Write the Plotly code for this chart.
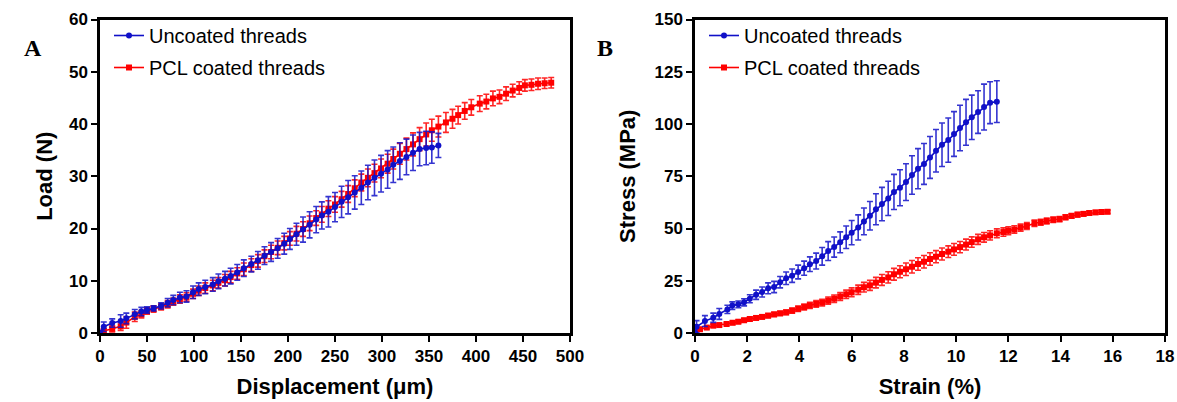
import plotly.graph_objects as go

# ---------------- Panel A: Load vs displacement ----------------
unc_disp = [0, 4, 13, 22, 28, 37, 44, 50, 57, 65, 72, 78, 85, 92, 99, 105, 112, 120, 126, 133,
            139, 146, 153, 161, 168, 175, 182, 189, 196, 202, 209, 216, 223, 230, 236, 243, 250,
            257, 264, 271, 278, 285, 292, 299, 306, 312, 319, 326, 333, 340, 347, 353, 360]
unc_load = [0.1, 1.2, 1.9, 2.3, 2.8, 3.6, 4.1, 4.4, 4.7, 5.2, 5.8, 6.3, 6.8, 7.0, 7.8, 8.4, 8.8,
            9.3, 9.9, 10.4, 10.9, 11.6, 12.4, 13.2, 13.9, 14.8, 15.5, 16.2, 17.1, 18.0, 18.9, 19.8,
            20.7, 21.7, 22.5, 23.2, 24.1, 25.1, 26.0, 26.9, 27.8, 28.8, 29.7, 30.5, 31.3, 32.2,
            32.9, 33.7, 34.5, 35.2, 35.4, 35.5, 35.9]
unc_load_err = [0.3, 0.9, 0.8, 1.2, 1.0, 0.9, 0.8, 0.6, 0.5, 0.6, 0.8, 0.9, 1.0, 1.1, 1.2, 1.2,
                1.3, 1.3, 1.4, 1.4, 1.5, 1.5, 1.6, 1.5, 1.7, 1.7, 1.8, 1.9, 2.0, 2.0, 2.1, 2.4,
                2.5, 2.5, 2.6, 2.9, 2.8, 3.0, 3.2, 3.2, 3.2, 3.3, 3.4, 3.5, 3.6, 3.4, 3.5, 3.4,
                3.4, 3.2, 3.2, 3.0, 2.3]

pcl_disp = [0, 4, 13, 22, 28, 37, 44, 50, 57, 65, 72, 78, 85, 92, 99, 105, 112, 120, 126, 133,
            139, 146, 153, 161, 168, 175, 182, 189, 196, 202, 209, 216, 223, 230, 236, 243, 250,
            257, 264, 271, 278, 285, 292, 299, 306, 312, 319, 326, 333, 340, 347, 353, 360, 368,
            375, 381, 388, 395, 404, 411, 418, 425, 432, 439, 446, 452, 459, 466, 473, 480]
pcl_load = [0.0, 0.4, 0.8, 1.3, 2.0, 3.1, 3.6, 4.2, 4.6, 5.0, 5.5, 6.0, 6.5, 6.9, 7.5, 8.1, 8.6,
            9.1, 9.6, 10.1, 10.7, 11.4, 12.2, 13.0, 13.8, 14.7, 15.5, 16.3, 17.2, 18.1, 19.0,
            19.9, 21.0, 22.0, 22.7, 23.8, 24.6, 25.6, 26.6, 27.7, 28.8, 29.7, 30.6, 31.5, 32.4,
            33.3, 34.3, 35.2, 36.1, 37.1, 38.0, 38.8, 39.5, 40.3, 41.0, 41.7, 42.5, 43.2, 43.9,
            44.3, 44.9, 45.2, 45.8, 46.4, 46.9, 47.4, 47.5, 47.7, 47.8, 47.9]
pcl_load_err = [0.2, 0.4, 0.6, 0.8, 1.1, 0.9, 0.7, 0.6, 0.6, 0.6, 0.7, 0.7, 0.8, 0.8, 0.9, 0.9,
                1.0, 1.0, 1.0, 1.1, 1.1, 1.1, 1.2, 1.2, 1.2, 1.2, 1.3, 1.3, 1.3, 1.3, 1.4, 1.4,
                1.4, 1.4, 1.5, 1.5, 1.5, 1.5, 1.6, 1.6, 1.6, 1.7, 1.7, 1.8, 1.8, 1.9, 2.0, 2.1,
                2.2, 2.2, 2.2, 2.1, 2.0, 1.9, 1.8, 1.7, 1.6, 1.5, 1.5, 1.4, 1.4, 1.3, 1.3, 1.2,
                1.2, 1.1, 1.1, 1.1, 1.0, 1.0]

# ---------------- Panel B: Stress vs strain ----------------
unc_strain = [0, 0.06, 0.38, 0.7, 0.93, 1.24, 1.43, 1.66, 1.88, 2.1, 2.34, 2.57, 2.8, 3.03, 3.26,
              3.49, 3.72, 3.95, 4.18, 4.4, 4.64, 4.87, 5.1, 5.33, 5.56, 5.79, 6.0, 6.25, 6.47,
              6.7, 6.93, 7.16, 7.4, 7.62, 7.85, 8.08, 8.31, 8.54, 8.77, 9.0, 9.23, 9.46, 9.7,
              9.92, 10.15, 10.38, 10.6, 10.84, 11.07, 11.3, 11.56]
unc_stress = [0, 3.0, 5.7, 7.3, 9.1, 11.3, 13.1, 13.7, 14.7, 16.4, 18.3, 19.6, 21.4, 22.0, 24.3,
              26.2, 27.4, 29.2, 31.0, 32.9, 34.4, 36.7, 39.2, 41.1, 43.4, 45.8, 48.0, 50.5, 53.4,
              56.1, 59.2, 61.7, 64.4, 67.5, 69.5, 72.2, 75.6, 78.6, 80.9, 84.0, 87.2, 90.1, 92.3,
              95.2, 98.1, 100.8, 103.2, 105.7, 108.1, 110.2, 110.7]
unc_stress_err = [0.5, 2.9, 2.6, 2.2, 2.6, 2.0, 1.8, 1.6, 1.7, 1.9, 2.2, 2.4, 2.6, 2.7, 2.7, 3.0,
                  3.2, 3.3, 3.4, 3.5, 3.8, 4.2, 4.5, 4.8, 5.0, 5.4, 5.8, 6.0, 6.4, 6.8, 7.4, 8.0,
                  8.2, 8.4, 8.6, 8.8, 9.2, 9.6, 9.8, 10.0, 10.2, 10.4, 10.6, 10.7, 10.9, 11.0,
                  10.6, 10.2, 11.0, 10.0, 10.0]

pcl_strain = [0, 0.19, 0.45, 0.7, 0.93, 1.21, 1.44, 1.66, 1.88, 2.1, 2.34, 2.57, 2.8, 3.03, 3.26,
              3.49, 3.72, 3.95, 4.18, 4.4, 4.64, 4.87, 5.1, 5.33, 5.56, 5.79, 6.0, 6.25, 6.47,
              6.7, 6.93, 7.16, 7.4, 7.62, 7.85, 8.08, 8.31, 8.54, 8.77, 9.0, 9.23, 9.46, 9.7,
              9.92, 10.15, 10.38, 10.6, 10.84, 11.07, 11.3, 11.56, 11.81, 12.0, 12.23, 12.47,
              12.71, 13.0, 13.24, 13.47, 13.72, 13.96, 14.19, 14.42, 14.65, 14.88, 15.1, 15.34,
              15.57, 15.8]
pcl_stress = [0, 1.8, 2.6, 3.5, 3.8, 4.3, 4.9, 5.4, 6.1, 6.7, 7.2, 7.7, 8.3, 8.9, 9.4, 9.9, 10.7,
              11.6, 12.4, 13.2, 13.9, 14.5, 15.5, 16.4, 17.5, 18.5, 19.5, 20.7, 21.9, 22.8, 24.1,
              25.4, 26.6, 28.1, 29.3, 30.5, 31.7, 33.0, 34.1, 35.4, 36.5, 37.8, 38.9, 40.0, 41.1,
              42.3, 43.5, 44.8, 45.8, 46.7, 47.7, 48.3, 48.9, 49.5, 50.4, 51.2, 52.5, 53.0, 53.6,
              54.2, 54.5, 55.4, 56.0, 56.6, 57.0, 57.4, 57.7, 57.9, 58.0]
pcl_stress_err = [0.3, 0.5, 0.6, 0.7, 0.7, 0.7, 0.8, 0.8, 0.8, 0.9, 0.9, 0.9, 1.0, 1.0, 1.0, 1.1,
                  1.2, 1.3, 1.4, 1.5, 1.6, 1.6, 1.7, 1.8, 1.9, 2.0, 2.1, 2.2, 2.3, 2.4, 2.5, 2.6,
                  2.7, 2.8, 2.9, 3.0, 3.0, 3.0, 3.0, 3.0, 2.9, 2.9, 2.8, 2.8, 2.7, 2.6, 2.5, 2.4,
                  2.3, 2.2, 2.1, 2.0, 1.9, 1.8, 1.7, 1.6, 1.5, 1.4, 1.4, 1.3, 1.2, 1.2, 1.1, 1.1,
                  1.0, 1.0, 0.9, 0.9, 0.8]

series_names = ["Uncoated threads", "PCL coated threads"]
x_ticks_a = [0, 50, 100, 150, 200, 250, 300, 350, 400, 450, 500]
y_ticks_a = [0, 10, 20, 30, 40, 50, 60]
x_ticks_b = [0, 2, 4, 6, 8, 10, 12, 14, 16, 18]
y_ticks_b = [0, 25, 50, 75, 100, 125, 150]

BLUE = "#1010c8"
BLUE_ERR = "rgba(16,16,200,0.85)"
RED = "#ff0000"
RED_ERR = "rgba(255,0,0,0.85)"

fig = go.Figure()


def add_series(x, y, err, name, color, ecolor, symbol, xa, ya, legend, rank):
    fig.add_trace(go.Scatter(
        x=x, y=y, mode="lines+markers", name=name,
        line=dict(color=color, width=1.6),
        marker=dict(color=color, size=6, symbol=symbol),
        error_y=dict(type="data", array=err, visible=True, color=ecolor, thickness=1.6, width=3),
        xaxis=xa, yaxis=ya, legend=legend, legendgroup=name + legend, legendrank=rank,
        cliponaxis=False,
    ))


add_series(pcl_disp, pcl_load, pcl_load_err, series_names[1], RED, RED_ERR, "square", "x", "y", "legend", 2)
add_series(unc_disp, unc_load, unc_load_err, series_names[0], BLUE, BLUE_ERR, "circle", "x", "y", "legend", 1)
add_series(pcl_strain, pcl_stress, pcl_stress_err, series_names[1], RED, RED_ERR, "square", "x2", "y2", "legend2", 2)
add_series(unc_strain, unc_stress, unc_stress_err, series_names[0], BLUE, BLUE_ERR, "circle", "x2", "y2", "legend2", 1)

W, H = 1177, 402
ydom = [1 - 333 / H, 1 - 19.5 / H]
tickfont = dict(family="Liberation Sans, Arial, sans-serif", size=17, color="black", weight="bold")
titlefont = dict(family="Liberation Sans, Arial, sans-serif", size=22, color="black", weight="bold")

axis_common = dict(
    showline=True, linecolor="black", linewidth=2.5, mirror=True,
    ticks="outside", ticklen=6, tickwidth=2, tickcolor="black",
    showgrid=False, zeroline=False, tickfont=tickfont, automargin=False,
)

legend_common = dict(
    font=dict(family="Liberation Sans, Arial, sans-serif", size=20, color="black"),
    bgcolor="rgba(0,0,0,0)", traceorder="grouped", tracegroupgap=3,
    xanchor="left", yanchor="top", itemwidth=30,
)

fig.update_layout(
    width=W, height=H,
    margin=dict(l=0, r=0, t=0, b=0),
    paper_bgcolor="white", plot_bgcolor="white",
    xaxis=dict(domain=[100 / W, 570 / W], range=[0, 500], tickvals=x_ticks_a,
               title=dict(text="Displacement (\u03bcm)", font=titlefont, standoff=14), **axis_common),
    yaxis=dict(domain=ydom, range=[0, 60], tickvals=y_ticks_a,
               title=dict(text="Load (N)", font=titlefont, standoff=11), **axis_common),
    xaxis2=dict(domain=[695 / W, 1165 / W], range=[0, 18], tickvals=x_ticks_b, anchor="y2",
                title=dict(text="Strain (%)", font=titlefont, standoff=14), **axis_common),
    yaxis2=dict(domain=ydom, range=[0, 150], tickvals=y_ticks_b, anchor="x2",
                title=dict(text="Stress (MPa)", font=titlefont, standoff=13), **axis_common),
    legend=dict(x=109 / W, y=1 - 16 / H, **legend_common),
    legend2=dict(x=704 / W, y=1 - 16 / H, **legend_common),
    showlegend=True,
    annotations=[
        dict(text="<b>A</b>", x=22 / W, y=1 - 33 / H, xref="paper", yref="paper", showarrow=False,
             font=dict(family="Liberation Serif, Times New Roman, serif", size=24, color="black")),
        dict(text="<b>B</b>", x=605 / W, y=1 - 33 / H, xref="paper", yref="paper", showarrow=False,
             font=dict(family="Liberation Serif, Times New Roman, serif", size=24, color="black")),
    ],
)

fig.write_html("out.html")
